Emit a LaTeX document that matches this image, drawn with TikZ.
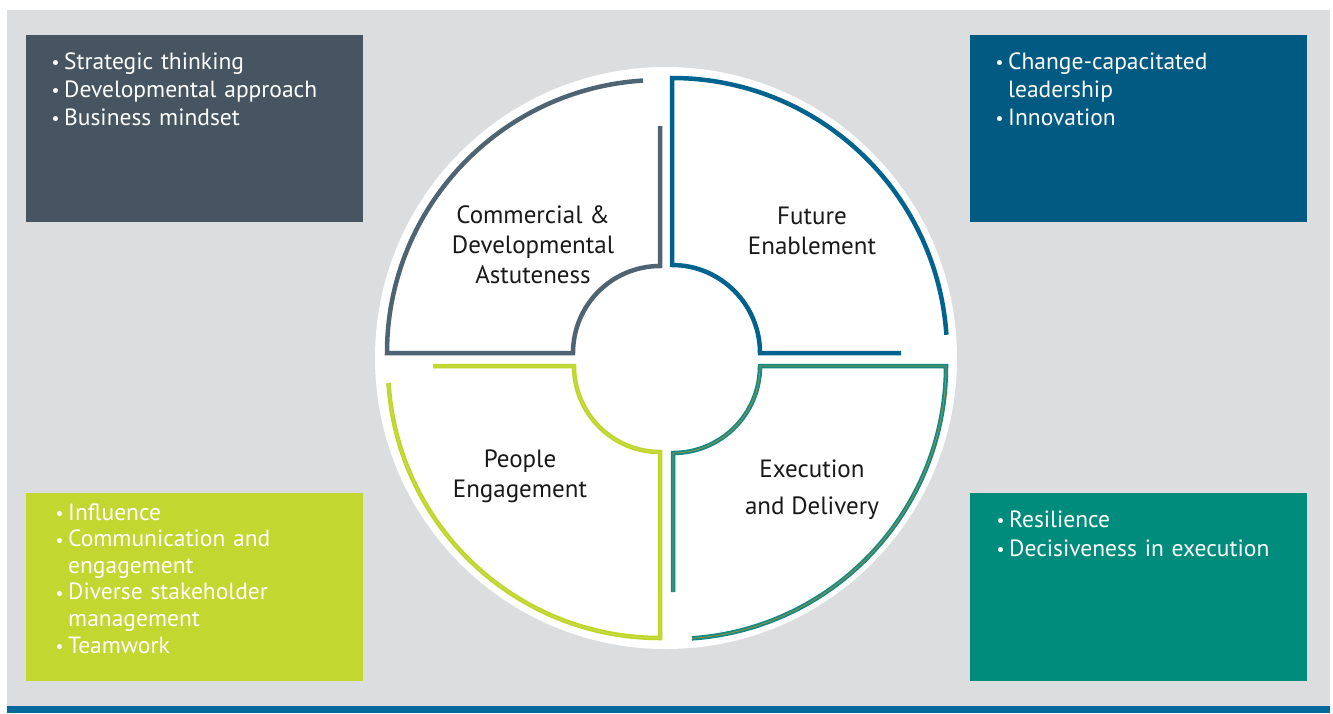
\documentclass[tikz,border=0pt]{standalone}
\usepackage{fontspec}
\setmainfont{PT Sans}
\definecolor{bggray}{HTML}{DCDDDF}
\definecolor{slate}{HTML}{465561}
\definecolor{slateline}{HTML}{4F6473}
\definecolor{bluebox}{HTML}{005A82}
\definecolor{blueline}{HTML}{00628F}
\definecolor{limebox}{HTML}{C2D72F}
\definecolor{limeline}{HTML}{BDD52A}
\definecolor{limeinner}{HTML}{CADD45}
\definecolor{tealbox}{HTML}{008C7D}
\definecolor{tealline}{HTML}{138A7F}
\definecolor{tealinner}{HTML}{9C8F4E}
\definecolor{barblue}{HTML}{00689A}
\newcommand{\bul}{\makebox[12.5pt][l]{\raisebox{0.5pt}{\scalebox{0.75}{•}}}}
\newcommand{\cont}{\hspace*{12.5pt}}
\tikzset{
  infobox/.style={inner sep=0pt, outer sep=0pt},
  boxtext/.style={anchor=base west, inner sep=0pt, text=white, text width=320pt, align=left,
    font=\fontsize{23.5}{28}\selectfont},
  quadtext/.style={align=center, inner sep=0pt, text=black!90,
    font=\fontsize{25}{30}\selectfont},
  quad/.style={line width=4.5pt, line join=miter}
}
\begin{document}
\begin{tikzpicture}[x=1pt,y=-1pt]
\useasboundingbox (0,0) rectangle (1333,713);
\fill[white] (0,0) rectangle (1333,713);
\fill[bggray] (7,10) rectangle (1330,706);
\fill[barblue] (7,706) rectangle (1330,713);
% boxes
\fill[slate] (26,35) rectangle (363,222);
\fill[bluebox] (970,35) rectangle (1307,222);
\fill[limebox] (26,493) rectangle (363,681);
\fill[tealbox] (970,493) rectangle (1307,681);
\node[boxtext] (tl) at (51.5,69) {\bul Strategic thinking\\\bul Developmental approach\\\bul Business mindset};
\node[boxtext] (tr) at (995.5,69) {\bul Change-capacitated\\\cont leadership\\\bul Innovation};
\node[boxtext, font=\fontsize{23.5}{26.6}\selectfont] (bl) at (55.5,520) {\bul Influence\\\bul Communication and\\\cont engagement\\\bul Diverse stakeholder\\\cont management\\\bul Teamwork};
\node[boxtext, font=\fontsize{23.5}{29}\selectfont] (br) at (996.5,527) {\bul Resilience\\\bul Decisiveness in execution};
% white disc
\fill[white] (666,358) circle (291);
% top-left quadrant
\draw[quad, slateline] (660,353) ++(266.4:273) arc[start angle=266.4, end angle=180, radius=273]
  -- (573,353) arc[start angle=180, end angle=270, radius=87] -- (660,126);
% top-right quadrant
\draw[quad, blueline] (672,353) ++(356.2:275) arc[start angle=356.2, end angle=270, radius=275]
  -- (672,265) arc[start angle=270, end angle=360, radius=88] -- (901,353);
% bottom-right quadrant
\foreach \w/\c in {4.5pt/tealline, 0.8pt/tealinner}{
\draw[line width=\w, \c] (673,592) -- (673,453) arc[start angle=90, end angle=0, radius=87]
  -- (946,366) arc[start angle=0, end angle=86, radius=273];
}
% bottom-left quadrant
\foreach \w/\c in {4.5pt/limeline, 1pt/limeinner}{
\draw[line width=\w, \c] (433,366) -- (574,366) arc[start angle=180, end angle=90, radius=86]
  -- (660,638) arc[start angle=90, end angle=176.4, radius=272];
}
% labels (base anchor = last line baseline)
\node[quadtext, anchor=base] (q1) at (533,283) {Commercial \&\\Developmental\\Astuteness};
\node[quadtext, anchor=base] (q2) at (812,254) {Future\\Enablement};
\node[quadtext, anchor=base] (q3) at (520,497) {People\\Engagement};
\node[quadtext, anchor=base, font=\fontsize{25}{37}\selectfont] (q4) at (812,514) {Execution\\and Delivery};
\end{tikzpicture}
\end{document}
